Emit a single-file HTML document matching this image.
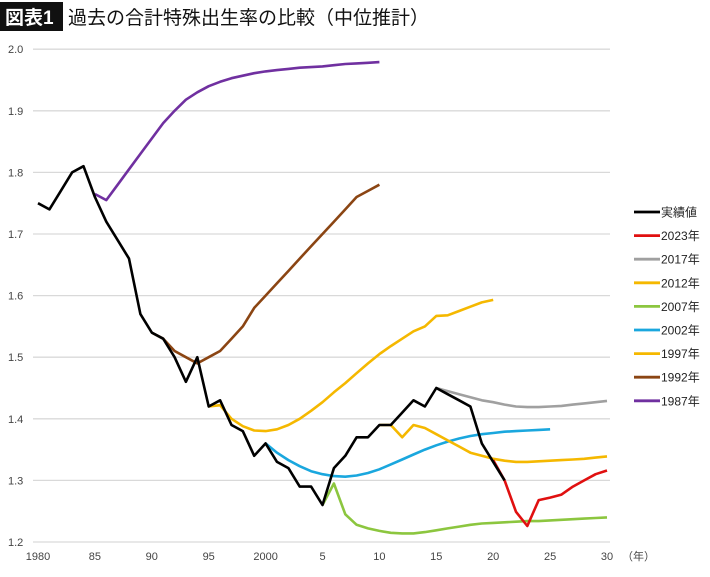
<!DOCTYPE html>
<html><head><meta charset="utf-8"><style>
body{margin:0;background:#fff;font-family:"Liberation Sans","Noto Sans CJK JP",sans-serif;}
svg text{font-family:"Liberation Sans","Noto Sans CJK JP",sans-serif;}
</style></head><body>
<svg id="c" width="710" height="572" viewBox="0 0 710 572">
<rect x="0" y="2" width="63" height="29" fill="#111"/>
<text x="5" y="24" font-size="19" font-weight="bold" fill="#fff">図表1</text>
<text x="68" y="24" font-size="19" fill="#111">過去の合計特殊出生率の比較（中位推計）</text>
<g id="grid"></g><g id="lines"></g><g id="legend"></g>
</svg>
<script>
const years=[1980,1985,1990,1995,2000,2005,2010,2015,2020,2025,2030];
const xLabels=["1980","85","90","95","2000","5","10","15","20","25","30"];
const yTicks=[1.2,1.3,1.4,1.5,1.6,1.7,1.8,1.9,2.0];
const actualStart=1980;
const actual=[1.75,1.74,1.77,1.80,1.81,1.76,1.72,1.69,1.66,1.57,1.54,1.53,1.50,1.46,1.50,1.42,1.43,1.39,1.38,1.34,1.36,1.33,1.32,1.29,1.29,1.26,1.32,1.34,1.37,1.37,1.39,1.39,1.41,1.43,1.42,1.45,1.44,1.43,1.42,1.36,1.33,1.30];
const p2023Start=2020;
const p2023=[1.333,1.30,1.249,1.226,1.268,1.272,1.277,1.29,1.30,1.31,1.316];
const p2017Start=2015;
const p2017=[1.45,1.445,1.44,1.435,1.43,1.427,1.423,1.42,1.419,1.419,1.42,1.421,1.423,1.425,1.427,1.429];
const p2012Start=2010;
const p2012=[1.39,1.39,1.37,1.39,1.385,1.375,1.365,1.355,1.345,1.34,1.335,1.332,1.33,1.33,1.331,1.332,1.333,1.334,1.335,1.337,1.339];
const p2007Start=2005;
const p2007=[1.26,1.295,1.245,1.228,1.222,1.218,1.215,1.214,1.214,1.216,1.219,1.222,1.225,1.228,1.23,1.231,1.232,1.233,1.234,1.234,1.235,1.236,1.237,1.238,1.239,1.24];
const p2002Start=2000;
const p2002=[1.36,1.345,1.333,1.323,1.315,1.31,1.307,1.306,1.308,1.312,1.318,1.326,1.334,1.342,1.35,1.357,1.363,1.368,1.372,1.375,1.377,1.379,1.38,1.381,1.382,1.383];
const p1997Start=1995;
const p1997=[1.42,1.422,1.40,1.388,1.381,1.38,1.383,1.39,1.40,1.413,1.427,1.443,1.458,1.474,1.49,1.505,1.518,1.53,1.542,1.55,1.567,1.568,1.575,1.582,1.589,1.593];
const p1992Start=1990;
const p1992=[1.54,1.53,1.51,1.50,1.49,1.50,1.51,1.53,1.55,1.58,1.60,1.62,1.64,1.66,1.68,1.70,1.72,1.74,1.76,1.77,1.78];
const p1987Start=1985;
const p1987=[1.765,1.755,1.78,1.805,1.83,1.855,1.88,1.90,1.918,1.93,1.94,1.947,1.953,1.957,1.961,1.964,1.966,1.968,1.97,1.971,1.972,1.974,1.976,1.977,1.978,1.979];
const legendNames=["実績値","2023年","2017年","2012年","2007年","2002年","1997年","1992年","1987年"];

const NS="http://www.w3.org/2000/svg";
const X=yr=>38+(yr-1980)*11.38;
const Y=v=>542-(v-1.2)*616;
function mk(tag,attrs,parent){const e=document.createElementNS(NS,tag);for(const k in attrs)e.setAttribute(k,attrs[k]);parent.appendChild(e);return e;}
const grid=document.getElementById('grid');
yTicks.forEach(t=>{
  const l=mk('line',{x1:33,x2:610,y1:Y(t),y2:Y(t),stroke:'#d9d9d9','stroke-width':1.3},grid);
  
  
  const tx=mk('text',{x:8,y:Y(t)+4,'font-size':11,fill:'#444'},grid);
  tx.textContent=t.toFixed(1);
  
  
});
years.forEach((yr,i)=>{
  const tx=mk('text',{x:X(yr),y:560,'font-size':11,fill:'#444','text-anchor':'middle'},grid);
  tx.textContent=xLabels[i];
  
  
});
const yl=mk('text',{x:622,y:560,'font-size':11,fill:'#444'},grid);
yl.textContent='（年）';



const series=[
 [p1987,p1987Start,'#7030a0','series-1987'],
 [p1992,p1992Start,'#8b4513','series-1992'],
 [p1997,p1997Start,'#f5b800','series-1997'],
 [p2002,p2002Start,'#1aa7de','series-2002'],
 [p2007,p2007Start,'#8cc63f','series-2007'],
 [p2012,p2012Start,'#f5b800','series-2012'],
 [p2017,p2017Start,'#a0a0a0','series-2017'],
 [p2023,p2023Start,'#e01010','series-2023'],
 [actual,actualStart,'#000','series-actual']
];
const lines=document.getElementById('lines');
series.forEach(s=>{
  const pts=s[0].map((v,i)=>X(s[1]+i).toFixed(1)+','+Y(v).toFixed(1)).join(' ');
  const p=mk('polyline',{points:pts,fill:'none',stroke:s[2],'stroke-width':2.6,'stroke-linejoin':'round'},lines);
  
  
});
const legColors=['#000','#e01010','#a0a0a0','#f5b800','#8cc63f','#1aa7de','#f5b800','#8b4513','#7030a0'];
const leg=document.getElementById('legend');
legendNames.forEach((n,i)=>{
  const y=212+i*23.6;
  const l=mk('line',{x1:634,x2:660,y1:y,y2:y,stroke:legColors[i],'stroke-width':2.8},leg);
  
  
  const t=mk('text',{x:661,y:y+4.5,'font-size':12,fill:'#222'},leg);
  t.textContent=n;
  
  
});
</script>
</body></html>
